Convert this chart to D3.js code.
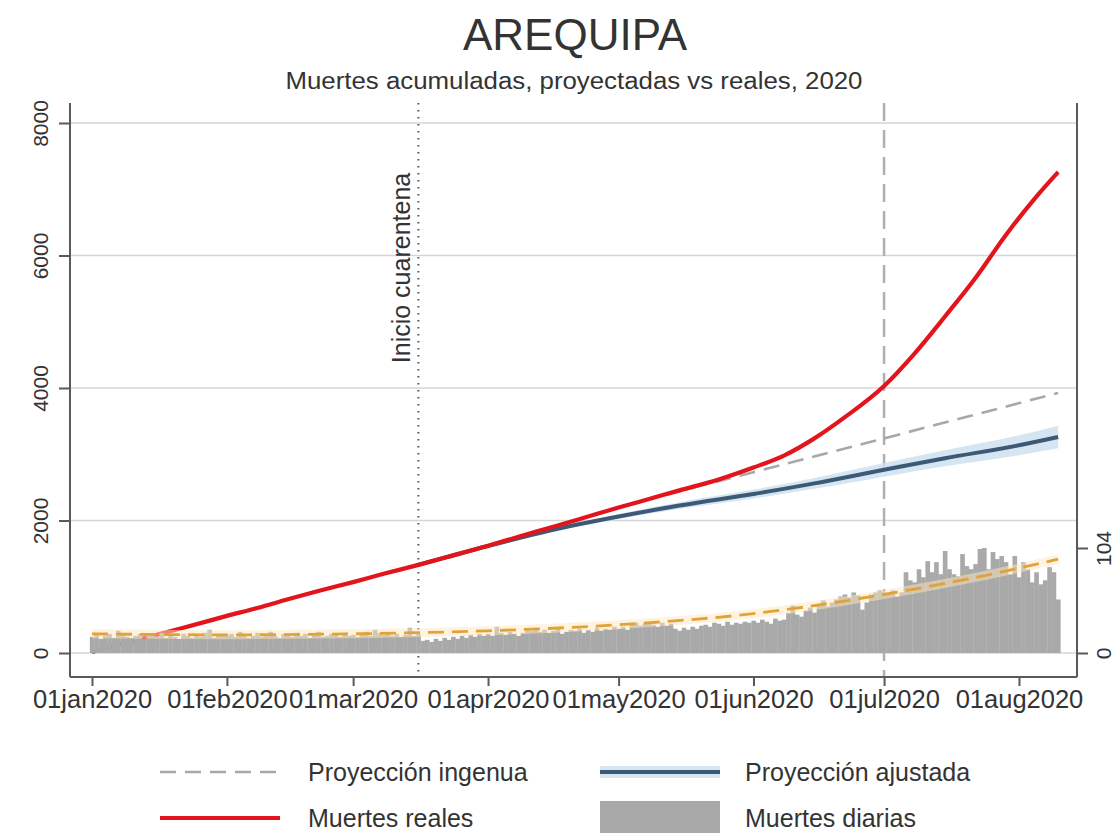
<!DOCTYPE html>
<html><head><meta charset="utf-8">
<script src="https://cdn.jsdelivr.net/npm/d3@7"></script>
<style>
body{margin:0;background:#fff}
svg{display:block}
text{font-family:"Liberation Sans",Arial,Helvetica,sans-serif;fill:#333}
</style>
</head><body>
<svg id="chart" width="1117" height="833"></svg>
<script>
// ---------------- DATA ----------------
const firstDay = "2020-01-01";
// daily deaths, one value per day from 01jan2020 to 10aug2020
const dailyJan = [16,18,14,17,19,15,22,18,16,15,17,19,14,18,17,16,20,15,18,16,14,19,17,15,18,16,20,23,15,18,17];
const dailyFeb = [17,19,16,21,18,15,17,20,16,18,21,17,15,19,18,16,20,17,19,15,18,21,16,17,19,18,16,20,17];
const dailyMar = [18,16,19,21,17,23,20,18,19,17,19,16,18,25,17,19,12,13,11,14,12,15,13,16,14,17,15,18,16,19,17];
const dailyApr = [19,17,26,20,18,21,19,17,20,23,22,24,21,23,20,22,24,19,21,23,22,24,20,23,21,25,22,24,23,26];
const dailyMay = [24,26,23,28,30,27,29,31,28,26,30,27,29,24,22,25,23,26,24,27,28,26,30,29,27,31,28,30,29,31,30];
const dailyJun = [32,30,33,31,29,34,32,33,40,47,38,36,42,45,40,48,52,46,50,53,56,58,55,60,57,43,50,58,60,62];
const dailyJul = [60,58,62,56,60,80,72,70,83,75,91,80,90,78,101,83,78,76,98,86,83,88,103,104,83,100,93,96,90,78,96];
const dailyAug = [75,90,83,70,80,68,72,85,80,53];

// cumulative real deaths (Muertes reales)
const realDates = ["2020-01-01","2020-01-08","2020-01-15","2020-01-22","2020-02-01","2020-02-08","2020-02-15","2020-02-22","2020-03-01","2020-03-08","2020-03-16","2020-03-23","2020-04-01","2020-04-08","2020-04-17","2020-04-24","2020-05-01","2020-05-08","2020-05-15","2020-05-24","2020-06-01","2020-06-08","2020-06-15","2020-06-22","2020-07-01","2020-07-08","2020-07-15","2020-07-22","2020-07-29","2020-08-05","2020-08-10"];
const realValues = [17,140,260,380,560,680,810,935,1070,1195,1330,1455,1620,1755,1925,2060,2195,2325,2455,2620,2800,2980,3240,3560,4030,4520,5080,5660,6310,6890,7260];

// adjusted projection (Proyección ajustada) with band
const adjDates = ["2020-03-16","2020-04-01","2020-04-15","2020-05-01","2020-05-15","2020-06-01","2020-06-15","2020-07-01","2020-07-15","2020-08-01","2020-08-10"];
const adjValues = [1330,1615,1845,2060,2225,2400,2560,2765,2940,3135,3260];
const adjLow    = [1330,1607,1823,2022,2173,2333,2478,2662,2818,2985,3090];
const adjHigh   = [1330,1623,1867,2098,2277,2467,2642,2868,3062,3285,3430];

// naive projection (Proyección ingenua)
const naiveDates = ["2020-05-01","2020-06-01","2020-07-01","2020-08-10"];
const naiveValues = [2200,2730,3240,3925];

// fitted trend of daily deaths (orange dashed)
const trendDates = ["2020-01-01","2020-02-01","2020-03-01","2020-04-01","2020-05-01","2020-06-01","2020-07-01","2020-08-01","2020-08-10"];
const trendValues = [19,18,19,22,28,39,58,84,93];

// axes
const xTickDates = ["2020-01-01","2020-02-01","2020-03-01","2020-04-01","2020-05-01","2020-06-01","2020-07-01","2020-08-01"];
const xTickLabels = ["01jan2020","01feb2020","01mar2020","01apr2020","01may2020","01jun2020","01jul2020","01aug2020"];
const yLeftTicks = [0,2000,4000,6000,8000];
const yRightTicks = [0,104];
const lockdownDate = "2020-03-16";
const lockdownLabel = "Inicio cuarentena";
const markDate = "2020-07-01";
const titleText = "AREQUIPA";
const subtitleText = "Muertes acumuladas, proyectadas vs reales, 2020";
const legendLabels = ["Proyección ingenua","Proyección ajustada","Muertes reales","Muertes diarias"];

// ---------------- DRAW ----------------
const parse = d3.utcParse("%Y-%m-%d");
const daily = [].concat(dailyJan,dailyFeb,dailyMar,dailyApr,dailyMay,dailyJun,dailyJul,dailyAug);
const d0 = parse(firstDay);
const dailyData = daily.map((v,i)=>({date:d3.utcDay.offset(d0,i), v}));

const svg = d3.select("#chart");
const L = 70, R = 1077, T = 103, B = 677;
const pxDay = 4.352;
const x = d3.scaleUtc()
  .domain([parse("2019-12-27"), parse("2020-08-15")])
  .range([92 - 5*pxDay, 92 + 227*pxDay]);
const y = d3.scaleLinear().domain([0,8000]).range([653,123]);
const yR = d3.scaleLinear().domain([0,104]).range([653,548]);

// gridlines
svg.append("g").selectAll("line").data(yLeftTicks).join("line")
  .attr("x1",L).attr("x2",R).attr("y1",d=>y(d)).attr("y2",d=>y(d))
  .attr("stroke","#d6d6d6").attr("stroke-width",1.6);

// vertical reference lines
svg.append("line").attr("x1",x(parse(lockdownDate))).attr("x2",x(parse(lockdownDate)))
  .attr("y1",T).attr("y2",B).attr("stroke","#555").attr("stroke-width",2)
  .attr("stroke-dasharray","1.5,5.5");
svg.append("line").attr("x1",x(parse(markDate))).attr("x2",x(parse(markDate)))
  .attr("y1",T).attr("y2",B).attr("stroke","#b0b0b0").attr("stroke-width",2.5)
  .attr("stroke-dasharray","18,9");

svg.append("text").attr("transform",`translate(${x(parse(lockdownDate))-8},268) rotate(-90)`)
  .attr("text-anchor","middle").attr("font-size",25).text(lockdownLabel);

// band
const adjData = adjDates.map((d,i)=>({date:parse(d), v:adjValues[i], lo:adjLow[i], hi:adjHigh[i]}));
svg.append("path").datum(adjData)
  .attr("d", d3.area().curve(d3.curveMonotoneX).x(d=>x(d.date)).y0(d=>y(d.lo)).y1(d=>y(d.hi)))
  .attr("fill","#cfe1f0").attr("opacity",0.85);

// naive projection
const naiveData = naiveDates.map((d,i)=>({date:parse(d), v:naiveValues[i]}));
svg.append("path").datum(naiveData)
  .attr("d", d3.line().curve(d3.curveMonotoneX).x(d=>x(d.date)).y(d=>y(d.v)))
  .attr("fill","none").attr("stroke","#a8a8a8").attr("stroke-width",2.6).attr("stroke-dasharray","16,9");

// adjusted projection
svg.append("path").datum(adjData)
  .attr("d", d3.line().curve(d3.curveMonotoneX).x(d=>x(d.date)).y(d=>y(d.v)))
  .attr("fill","none").attr("stroke","#3c5a76").attr("stroke-width",4);

// real deaths
const realData = realDates.map((d,i)=>({date:parse(d), v:realValues[i]}));
svg.append("path").datum(realData)
  .attr("d", d3.line().curve(d3.curveMonotoneX).x(d=>x(d.date)).y(d=>y(d.v)))
  .attr("fill","none").attr("stroke","#e3141b").attr("stroke-width",4.2);

// daily bars
const bw = pxDay;
svg.append("g").selectAll("rect").data(dailyData).join("rect")
  .attr("x",d=>x(d.date)-bw/2).attr("width",bw+0.3)
  .attr("y",d=>yR(d.v)).attr("height",d=>yR(0)-yR(d.v))
  .attr("fill","#a9a9a9");

// trend
const trendData = trendDates.map((d,i)=>({date:parse(d), v:trendValues[i]}));
svg.append("path").datum(trendData)
  .attr("d", d3.line().curve(d3.curveMonotoneX).x(d=>x(d.date)).y(d=>yR(d.v)))
  .attr("fill","none").attr("stroke","#fce7c0").attr("stroke-width",9).attr("opacity",0.5);
svg.append("path").datum(trendData)
  .attr("d", d3.line().curve(d3.curveMonotoneX).x(d=>x(d.date)).y(d=>yR(d.v)))
  .attr("fill","none").attr("stroke","#e2a23a").attr("stroke-width",2.8).attr("stroke-dasharray","16,8");

// frame
const axisColor = "#5a5a5a";
svg.append("line").attr("x1",L).attr("x2",L).attr("y1",T).attr("y2",B).attr("stroke",axisColor).attr("stroke-width",2);
svg.append("line").attr("x1",R).attr("x2",R).attr("y1",T).attr("y2",B).attr("stroke",axisColor).attr("stroke-width",2);
svg.append("line").attr("x1",L).attr("x2",R).attr("y1",B).attr("y2",B).attr("stroke",axisColor).attr("stroke-width",2);

// x axis
const gx = svg.append("g").attr("transform",`translate(0,${B})`)
  .call(d3.axisBottom(x).tickValues(xTickDates.map(parse)).tickSize(9).tickPadding(4)
    .tickFormat((d,i)=>xTickLabels[i]));
gx.select(".domain").remove();
gx.selectAll("line").attr("stroke",axisColor).attr("stroke-width",2);
gx.selectAll("text").attr("font-size",25.5).attr("fill","#333").attr("font-family",null);

// left axis
const gy = svg.append("g").attr("transform",`translate(${L},0)`)
  .call(d3.axisLeft(y).tickValues(yLeftTicks).tickSize(11).tickFormat(d3.format("d")));
gy.select(".domain").remove();
gy.selectAll("line").attr("stroke",axisColor).attr("stroke-width",2);
gy.selectAll("text").attr("font-size",21).attr("fill","#333").attr("font-family",null)
  .attr("x",0).attr("dy",null).attr("y",-22).attr("text-anchor","middle").attr("transform","rotate(-90)");

// right axis
const gr = svg.append("g").attr("transform",`translate(${R},0)`)
  .call(d3.axisRight(yR).tickValues(yRightTicks).tickSize(11).tickFormat(d3.format("d")));
gr.select(".domain").remove();
gr.selectAll("line").attr("stroke",axisColor).attr("stroke-width",2);
gr.selectAll("text").attr("font-size",21).attr("fill","#333").attr("font-family",null)
  .attr("x",0).attr("dy",null).attr("y",34).attr("text-anchor","middle").attr("transform","rotate(-90)");

// titles
svg.append("text").attr("x",575).attr("y",50).attr("text-anchor","middle").attr("font-size",44).attr("fill","#222").text(titleText);
svg.append("text").attr("x",574).attr("y",89).attr("text-anchor","middle").attr("font-size",23)
  .attr("textLength",577).attr("lengthAdjust","spacingAndGlyphs").text(subtitleText);

// legend
const lg = svg.append("g");
lg.append("line").attr("x1",160).attr("x2",280).attr("y1",772).attr("y2",772)
  .attr("stroke","#a8a8a8").attr("stroke-width",2.6).attr("stroke-dasharray","16,9");
lg.append("rect").attr("x",600).attr("y",766).attr("width",120).attr("height",12).attr("fill","#cfe1f0").attr("opacity",0.85);
lg.append("line").attr("x1",600).attr("x2",720).attr("y1",772).attr("y2",772)
  .attr("stroke","#3c5a76").attr("stroke-width",4);
lg.append("line").attr("x1",160).attr("x2",280).attr("y1",818).attr("y2",818)
  .attr("stroke","#e3141b").attr("stroke-width",4.2);
lg.append("rect").attr("x",600).attr("y",801).attr("width",120).attr("height",36).attr("fill","#a9a9a9");
const lpos = [[308,781],[745,781],[308,827],[745,827]];
lg.selectAll("text.l").data(legendLabels).join("text").attr("class","l")
  .attr("x",(d,i)=>lpos[i][0]).attr("y",(d,i)=>lpos[i][1]).attr("font-size",25).text(d=>d);
</script>
</body></html>
